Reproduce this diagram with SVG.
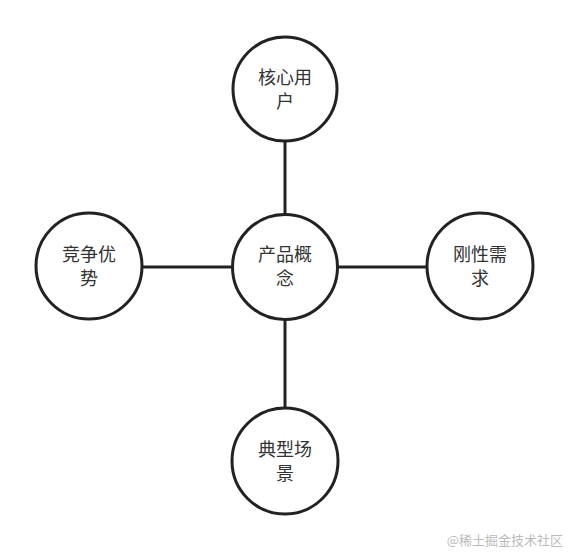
<svg xmlns="http://www.w3.org/2000/svg" width="570" height="552" viewBox="0 0 570 552">
<style>
.n{fill:#fff;stroke:#222;stroke-width:3}
.c{stroke:#222;stroke-width:3;fill:none}
.t{font-family:"Noto Sans CJK SC","Noto Sans",sans-serif;font-size:18px;fill:#333;text-anchor:middle}
.w{font-family:"Noto Sans CJK SC","Noto Sans",sans-serif;font-size:13px;fill:#bbb;text-anchor:end}
</style>
<rect width="570" height="552" fill="#fff"/>
<g id="connectors">
<line class="c" x1="285" y1="141" x2="285" y2="214"/>
<line class="c" x1="285" y1="320" x2="285" y2="407"/>
<line class="c" x1="142" y1="267" x2="232" y2="267"/>
<line class="c" x1="338" y1="267" x2="427" y2="267"/>
</g>
<g id="center">
<circle class="n" cx="285" cy="267" r="52.5"/>
<text class="t" x="285" y="261">产品概</text>
<text class="t" x="285" y="285">念</text>
</g>
<g id="top">
<circle class="n" cx="285" cy="89" r="52"/>
<text class="t" x="285" y="84">核心用</text>
<text class="t" x="285" y="108">户</text>
</g>
<g id="left">
<circle class="n" cx="89" cy="266" r="53"/>
<text class="t" x="89" y="261">竞争优</text>
<text class="t" x="89" y="285">势</text>
</g>
<g id="right">
<circle class="n" cx="480" cy="266" r="53"/>
<text class="t" x="480" y="261">刚性需</text>
<text class="t" x="480" y="285">求</text>
</g>
<g id="bottom">
<circle class="n" cx="285" cy="461" r="53"/>
<text class="t" x="285" y="456">典型场</text>
<text class="t" x="285" y="480">景</text>
</g>
<text class="w" x="563" y="545">@稀土掘金技术社区</text>
</svg>
